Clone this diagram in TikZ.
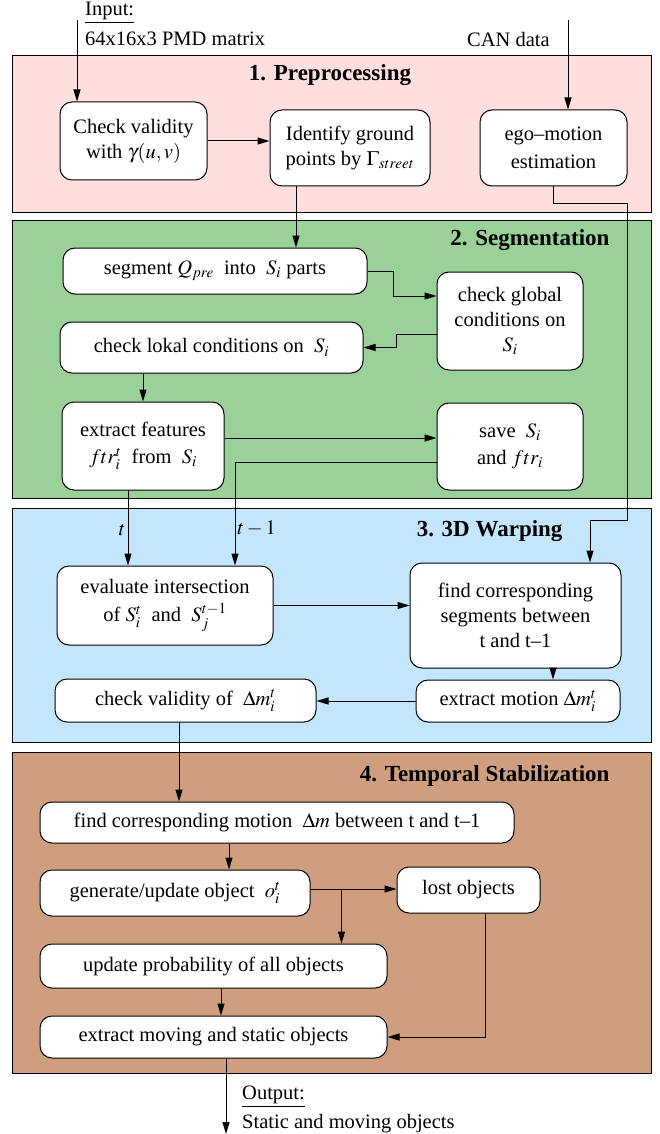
\documentclass[tikz,border=0pt]{standalone}
\usepackage{mathptmx}
\usepackage[no-math]{fontspec}
\setmainfont{Liberation Serif}
\usepackage{tikz}
\usetikzlibrary{arrows.meta,calc}
\definecolor{prebg}{HTML}{FFDEDE}
\definecolor{segbg}{HTML}{99D199}
\definecolor{warpbg}{HTML}{C4E6FC}
\definecolor{stabbg}{HTML}{CF9E7E}
\tikzset{
  stage/.style={draw=black, line width=1pt},
  stagetitle/.style={font=\fontsize{23}{27}\selectfont\bfseries},
  proc/.style={draw=black, fill=white, rounded corners=12pt, line width=1pt, align=center, inner sep=0pt, font=\fontsize{20.5}{25}\selectfont},
  flow/.style={-{Triangle[length=12pt,width=7pt]}, line width=1pt},
  lbl/.style={inner sep=2pt, font=\fontsize{20.5}{25}\selectfont}
}

\begin{document}
\begin{tikzpicture}[x=1pt, y=-1pt]
  \useasboundingbox (0,0) rectangle (659,1134);

  % stages
  \draw[stage, fill=prebg] (12,56) rectangle (651,212);
  \draw[stage, fill=segbg] (12,220) rectangle (651,498);
  \draw[stage, fill=warpbg] (12,508) rectangle (651,742);
  \draw[stage, fill=stabbg] (12,752) rectangle (651,1073);
  \node[stagetitle] (t1) at (330,75) {1. Preprocessing};
  \node[stagetitle, anchor=east] (t2) at (613,240) {2. Segmentation};
  \node[stagetitle, anchor=east] (t3) at (566,531) {3. 3D Warping};
  \node[stagetitle, anchor=east] (t4) at (613,776) {4. Temporal Stabilization};

  % inputs and output
  \node[lbl, anchor=west] (inp) at (83,13) {\underline{Input:}};
  \node[lbl, anchor=west] (mat) at (83,39) {64x16x3 PMD matrix};
  \node[lbl, anchor=west] (can) at (465,39) {CAN data};
  \node[lbl, anchor=west] (outl) at (240,1097) {\underline{Output:}};
  \node[lbl, anchor=west] (outs) at (240,1124) {Static and moving objects};
  \coordinate (inTop) at (77,20);
  \coordinate (canTop) at (568,20);
  \coordinate (outBot) at (226,1134);

  % 1. preprocessing
  \node[proc, minimum width=147pt, minimum height=78pt] (chk) at (133.5,141) {Check validity\\with $\gamma(u,v)$};
  \node[proc, minimum width=160pt, minimum height=76pt] (ident) at (350,148) {Identify ground\\points by $\Gamma_{street}$};
  \node[proc, minimum width=147pt, minimum height=76pt] (ego) at (553.5,148) {ego--motion\\[3pt]estimation};

  % 2. segmentation
  \node[proc, minimum width=304pt, minimum height=46pt] (seg) at (215,271) {segment $Q_{pre}$\ \ into\ \ $S_i$ parts};
  \node[proc, minimum width=146pt, minimum height=98pt] (glob) at (510,321) {check global\\conditions on\\$S_i$};
  \node[proc, minimum width=303pt, minimum height=51pt] (lok) at (211.5,347.5) {check lokal conditions on\ \ $S_i$};
  \node[proc, minimum width=162pt, minimum height=88pt] (feat) at (143,446) {extract features\\[2pt]$ftr_i^t$\ \ from\ \ $S_i$};
  \node[proc, minimum width=146pt, minimum height=87pt] (save) at (510,446.5) {save\ \ $S_i$\\[2pt]and $ftr_i$};

  % 3. 3D warping
  \node[proc, minimum width=216pt, minimum height=79pt] (eval) at (165,605.5) {evaluate intersection\\[3pt]of $S_i^t$\ \ and\ \ $S_j^{t-1}$};
  \node[proc, minimum width=211pt, minimum height=105pt] (corr) at (515.5,615.5) {find corresponding\\segments between\\t and t--1};
  \node[proc, minimum width=204pt, minimum height=42pt] (motion) at (518,701) {extract motion $\Delta m_i^t$};
  \node[proc, minimum width=261pt, minimum height=43pt] (valid) at (185.5,700.5) {check validity of\ \ $\Delta m_i^t$};

  % 4. temporal stabilization
  \node[proc, minimum width=474pt, minimum height=41pt] (fcm) at (277,822.5) {find corresponding motion\ \ $\Delta m$ between t and t--1};
  \node[proc, minimum width=270pt, minimum height=46pt] (gen) at (175,893) {generate/update object\ \ $o_i^t$};
  \node[proc, minimum width=143pt, minimum height=46pt] (lost) at (468.5,890) {lost objects};
  \node[proc, minimum width=347pt, minimum height=44pt] (prob) at (213.5,966) {update probability of all objects};
  \node[proc, minimum width=347pt, minimum height=42pt] (extr) at (213.5,1037) {extract moving and static objects};

  % connectors
  \draw[flow] (inTop) -- (inTop |- chk.north);
  \draw[flow] (canTop) -- (canTop |- ego.north);
  \draw[flow] (chk.east) -- (chk.east -| ident.west);
  \draw[flow] ([xshift=-54pt]ident.south) -- ([xshift=-54pt]ident.south |- seg.north);
  \coordinate (egoR) at (627,203);
  \coordinate (warpL) at (590,520);
  \draw[flow] (ego.south) |- (egoR) |- (warpL) -- (warpL |- corr.north);
  \draw[flow] (seg.east) -- ++(26,0) |- ([yshift=25pt]glob.west);
  \draw[flow] ([yshift=-13pt]glob.west) -- ++(-40,0) |- (lok.east);
  \draw[flow] (lok.south -| feat.north) -- (feat.north);
  \draw[flow] ([yshift=8pt]feat.east) -- ([yshift=8pt]feat.east -| save.west);
  \draw[flow] ([yshift=-15.5pt]save.west) -| ([xshift=70pt]eval.north)
    node[lbl, right, pos=0.82] (tm1) {$t-1$};
  \draw[flow] ([xshift=-15pt]feat.south) -- ([xshift=-15pt]feat.south |- eval.north)
    node[lbl, left, pos=0.53] (tt) {$t$};
  \draw[flow] (eval.east) -- (eval.east -| corr.west);
  \draw[flow] ([xshift=37.5pt]corr.south) -- ([xshift=37.5pt]corr.south |- motion.north);
  \draw[flow] (motion.west) -- (motion.west -| valid.east);
  \draw[flow] ([xshift=-6.5pt]valid.south) -- ([xshift=-6.5pt]valid.south |- fcm.north);
  \draw[flow] ([xshift=-48pt]fcm.south) -- ([xshift=-48pt]fcm.south |- gen.north);
  \draw[flow] ([yshift=4pt]gen.east) -- ([yshift=4pt]gen.east -| lost.west);
  \coordinate (br) at ([xshift=31pt,yshift=4pt]gen.east);
  \draw[flow] (br) -- (br |- prob.north);
  \draw[flow] ([xshift=7.5pt]prob.south) -- ([xshift=7.5pt]prob.south |- extr.north);
  \draw[flow] ([xshift=16.5pt]lost.south) |- (extr.east);
  \draw[flow] (extr.south -| outBot) -- (outBot);
\end{tikzpicture}
\end{document}
